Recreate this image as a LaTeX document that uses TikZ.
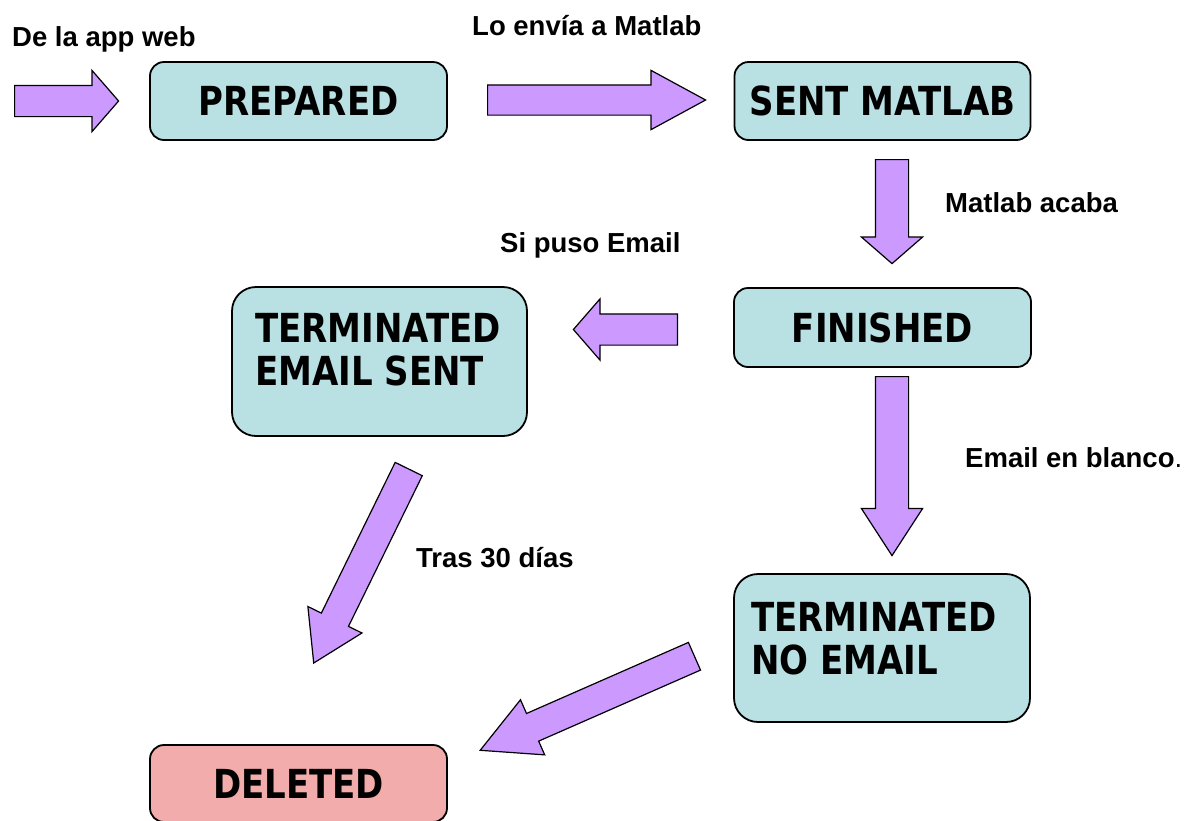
\documentclass[tikz,border=0pt]{standalone}
\usepackage{fontspec}
\setmainfont{Liberation Sans}
\newfontfamily\boxfont[FakeStretch=0.85]{DejaVu Sans}
\usetikzlibrary{shapes.arrows}
\definecolor{estadoazul}{HTML}{B9E0E3}
\definecolor{estadorojo}{HTML}{F2ACAC}
\definecolor{flechalila}{HTML}{CC99FF}
\tikzset{
	estado/.style={draw, line width=1.8pt, fill=estadoazul, rounded corners=14pt, inner sep=0pt, font=\boxfont\bfseries\fontsize{40}{43}\selectfont},
	estadotexto/.style={anchor=north west, inner sep=0pt, align=left, font=\boxfont\bfseries\fontsize{40}{43}\selectfont},
	flecha/.style={single arrow, draw, line width=1.2pt, fill=flechalila, single arrow head indent=0pt, text height=0pt, text depth=0pt, inner xsep=0pt, inner ysep=15pt, single arrow head extend=15pt, anchor=tail},
	etiqueta/.style={anchor=base west, inner sep=0pt, font=\bfseries\fontsize{27.5}{33}\selectfont},
}
\begin{document}
\begin{tikzpicture}[x=1pt,y=-1pt]
	\useasboundingbox (0,0) rectangle (1185,820);
	\clip (0,0) rectangle (1185,820);
	\node[estado, minimum width=297pt, minimum height=78pt] (prepared) at (298.5,101) {PREPARED};
	\node[estado, minimum width=296pt, minimum height=78pt] (sent) at (882.5,101) {SENT MATLAB};
	\node[estado, minimum width=297pt, minimum height=79pt] (finished) at (882.5,327.5) {FINISHED};
	\node[estado, rounded corners=24pt, minimum width=295pt, minimum height=149pt] (tes) at (379.5,361.5) {};
	\node[estadotexto] (tes-text) at (255,313) {TERMINATED\\EMAIL SENT};
	\node[estado, rounded corners=24pt, minimum width=296pt, minimum height=148pt] (tne) at (882,648) {};
	\node[estadotexto] (tne-text) at (751,602) {TERMINATED\\NO EMAIL};
	\node[estado, fill=estadorojo, minimum width=297pt, minimum height=77pt] (deleted) at (298.5,783.5) {DELETED};

	\node[flecha, minimum height=104pt, single arrow tip angle=98] (a0) at (14,101) {};
	\node[flecha, minimum height=218pt, single arrow tip angle=57, inner ysep=14.5pt, single arrow head extend=14.5pt] (a1) at (487,100) {};
	\node[flecha, minimum height=104pt, single arrow tip angle=98, inner ysep=16pt, single arrow head extend=14pt, rotate=-90] (a2) at (892,159) {};
	\node[flecha, minimum height=104pt, single arrow tip angle=98, rotate=180] (a3) at (678,329.5) {};
	\node[flecha, minimum height=179pt, single arrow tip angle=66, inner ysep=16pt, single arrow head extend=14pt, rotate=-90] (a4) at (892,376) {};
	\node[flecha, minimum height=216pt, single arrow tip angle=64, inner ysep=14.5pt, rotate=-116.1] (a5) at (409,468.5) {};
	\node[flecha, minimum height=234pt, single arrow tip angle=55.5, inner ysep=14.5pt, rotate=-156.3] (a6) at (695,656) {};

	\node[etiqueta] (l0) at (12,46) {De la app web};
	\node[etiqueta] (l1) at (472,35) {Lo envía a Matlab};
	\node[etiqueta] (l2) at (945,212) {Matlab acaba};
	\node[etiqueta] (l3) at (500,252) {Si puso Email};
	\node[etiqueta] (l4) at (965,467) {Email en blanco{\mdseries.}};
	\node[etiqueta] (l5) at (416,567) {Tras 30 días};
\end{tikzpicture}
\end{document}
